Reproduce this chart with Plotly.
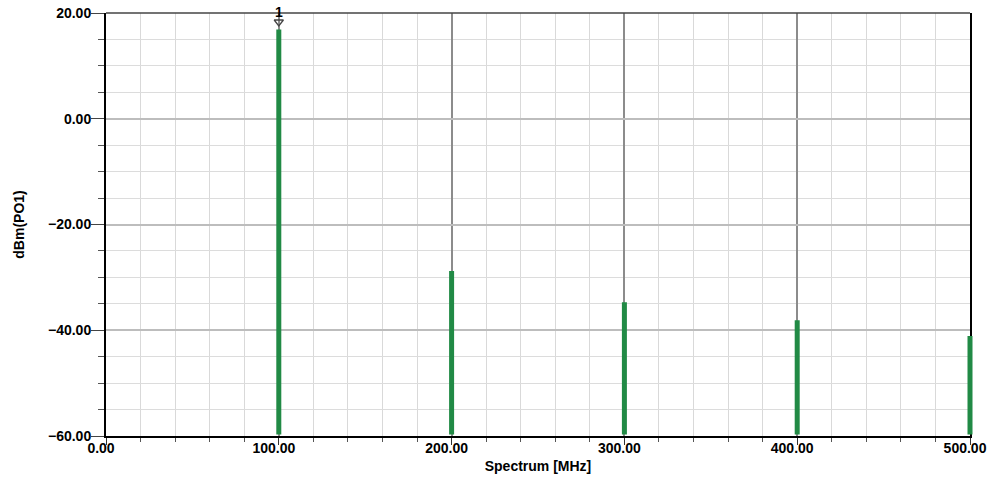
import plotly.graph_objects as go

# Harmonic spectrum at output port PO1
freq_mhz = [100, 200, 300, 400, 500]
power_dbm = [16.9, -28.8, -34.7, -38.1, -41.1]
marker_label = "1"

x_range = [0, 500]
y_range = [-60, 20]

line_green = "#218a45"
font_family = "Liberation Sans, Arial"

fig = go.Figure()

# Spectral lines rising from the floor of the plot (annotation arrows are not
# clipped, so the line at the right edge stays whole)
for f, p in zip(freq_mhz, power_dbm):
    fig.add_annotation(
        x=f, y=p, ax=f, ay=y_range[0], xref="x", yref="y", axref="x", ayref="y",
        text="", showarrow=True, arrowhead=0, arrowwidth=5, arrowcolor=line_green,
        standoff=0, startstandoff=0,
    )

# Marker on the fundamental
fig.add_trace(go.Scatter(
    x=[freq_mhz[0]],
    y=[power_dbm[0] + 1.4],
    mode="markers",
    marker=dict(symbol="triangle-down-open", size=8, color="#444444",
                line=dict(width=1.3)),
    cliponaxis=False,
    showlegend=False,
    hoverinfo="skip",
))
fig.add_annotation(
    x=freq_mhz[0], y=y_range[1], text=marker_label, showarrow=False,
    xanchor="center", yanchor="middle", yshift=1,
    font=dict(family=font_family, size=14, color="#000000", weight="bold"),
)

# Top frame line
fig.add_shape(type="line", xref="paper", yref="paper", x0=0, x1=1, y0=1, y1=1,
              line=dict(color="#444444", width=1.5))

tick_font = dict(family=font_family, size=14, color="#000000", weight="bold")
title_font = dict(family=font_family, size=14, color="#000000", weight="bold")

fig.update_xaxes(
    range=x_range, dtick=100, tick0=0, tickformat=".2f",
    showline=True, linecolor="#000000", linewidth=2, mirror=False,
    ticks="outside", ticklen=7, tickwidth=1, tickcolor="#333333",
    showgrid=True, gridcolor="#8c8c8c", gridwidth=2,
    minor=dict(dtick=20, ticks="outside", ticklen=4, tickcolor="#555555",
               showgrid=True, gridcolor="#d9d9d9", gridwidth=1),
    zeroline=False, tickfont=tick_font,
    ticklabeloverflow="allow", ticklabelshift=-5, ticklabelstandoff=-9,
    automargin=False,
    title=dict(text="Spectrum [MHz]", font=title_font, standoff=6),
)
fig.update_yaxes(
    range=y_range, dtick=20, tick0=0, tickformat=".2f",
    showline=True, linecolor="#000000", linewidth=2, mirror=True,
    ticks="outside", ticklen=13, tickwidth=1, tickcolor="#444444",
    showgrid=True, gridcolor="#bdbdbd", gridwidth=2,
    minor=dict(dtick=5, ticks="outside", ticklen=6, tickcolor="#555555",
               showgrid=True, gridcolor="#dcdcdc", gridwidth=1),
    zeroline=False, tickfont=tick_font,
    ticklabeloverflow="allow", ticklabelstandoff=-3,
    automargin=False,
    title=dict(text="dBm(PO1)", font=title_font, standoff=20),
)

fig.update_layout(
    width=987, height=479,
    margin=dict(l=106, r=17, t=13, b=43),
    paper_bgcolor="#ffffff", plot_bgcolor="#ffffff",
)

fig.write_html("out.html")
